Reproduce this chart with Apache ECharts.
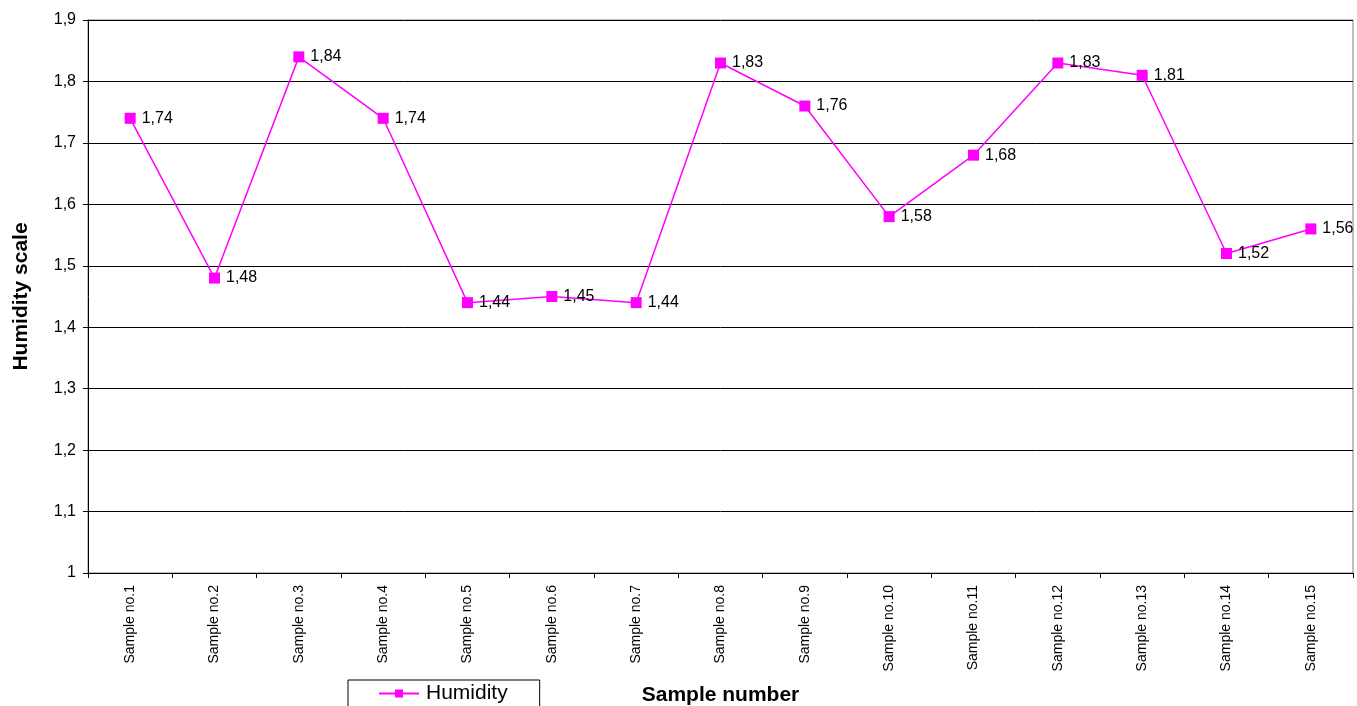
<!DOCTYPE html>
<html><head><meta charset="utf-8">
<script src="https://cdn.jsdelivr.net/npm/echarts@6/dist/echarts.min.js"></script>
<style>html,body{margin:0;padding:0;background:#fff}#c{width:1357px;height:706px}</style>
</head><body><div id="c"></div>
<script>
const categories = ["Sample no.1","Sample no.2","Sample no.3","Sample no.4","Sample no.5","Sample no.6","Sample no.7","Sample no.8","Sample no.9","Sample no.10","Sample no.11","Sample no.12","Sample no.13","Sample no.14","Sample no.15"];
const humidity = [1.74,1.48,1.84,1.74,1.44,1.45,1.44,1.83,1.76,1.58,1.68,1.83,1.81,1.52,1.56];
const seriesName = "Humidity";
const xTitle = "Sample number";
const yTitle = "Humidity scale";
const comma = v => String(v).replace('.', ',');
const chart = echarts.init(document.getElementById('c'));
chart.setOption({
  animation: false,
  textStyle: {fontFamily: 'Liberation Sans, Arial, sans-serif'},
  grid: {left: 88, right: 4, top: 20, bottom: 133, show: true, borderColor: '#808080', borderWidth: 1,
         containLabel: false, outerBoundsMode: 'none'},
  legend: {
    data: [seriesName], left: 348, top: 680, width: 192,
    borderColor: '#000', borderWidth: 1, padding: [3, 32, 10, 30],
    itemWidth: 40, itemHeight: 10, itemGap: 6,
    textStyle: {fontSize: 21, color: '#000', fontFamily: 'Liberation Sans, Arial, sans-serif', padding: [0, 0, 0, 2]}
  },
  xAxis: {
    type: 'category', data: categories, boundaryGap: true,
    name: xTitle, nameLocation: 'middle', nameGap: 112,
    nameTextStyle: {fontSize: 21, fontWeight: 'bold', color: '#000'},
    axisLine: {lineStyle: {color: '#000', width: 1}},
    axisTick: {show: true, alignWithLabel: false, length: 5, lineStyle: {color: '#000'}},
    axisLabel: {rotate: 90, fontSize: 14, color: '#000', margin: 12, interval: 0},
    splitLine: {show: false}
  },
  yAxis: {
    type: 'value', min: 1, max: 1.9, interval: 0.1,
    name: yTitle, nameLocation: 'middle', nameGap: 56,
    nameTextStyle: {fontSize: 21, fontWeight: 'bold', color: '#000'},
    axisLine: {show: true, lineStyle: {color: '#000', width: 1}},
    axisTick: {show: true, length: 5, lineStyle: {color: '#000'}},
    axisLabel: {fontSize: 16, color: '#000', margin: 12, formatter: v => comma(Math.round(v*10)/10)},
    splitLine: {show: true, lineStyle: {color: '#000', width: 1}}
  },
  series: [{
    name: seriesName, type: 'line', data: humidity,
    symbol: 'rect', symbolSize: 11,
    lineStyle: {color: '#FF00FF', width: 1.5},
    itemStyle: {color: '#FF00FF'},
    label: {show: true, position: 'right', distance: 6, fontSize: 16, color: '#000', formatter: p => comma(p.value)}
  }]
});
</script></body></html>
